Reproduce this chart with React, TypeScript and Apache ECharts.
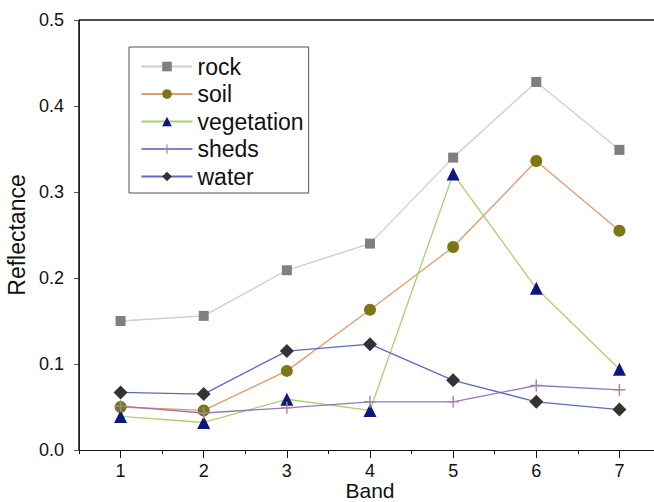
import React, { useEffect, useRef } from "react";
import * as echarts from "echarts";

const bands = [1, 2, 3, 4, 5, 6, 7];
const rock = [0.150, 0.156, 0.209, 0.240, 0.340, 0.428, 0.349];
const soil = [0.050, 0.046, 0.092, 0.163, 0.236, 0.336, 0.255];
const vegetation = [0.039, 0.032, 0.059, 0.046, 0.321, 0.188, 0.094];
const sheds = [0.051, 0.043, 0.049, 0.056, 0.056, 0.075, 0.070];
const water = [0.067, 0.065, 0.115, 0.123, 0.081, 0.056, 0.047];
const xRange = [0.5, 7.5];
const yRange = [0, 0.5];

const plusPath =
  "path://M4.4,0 H5.6 V4.4 H10 V5.6 H5.6 V10 H4.4 V5.6 H0 V4.4 H4.4 Z";

const FONT = "Arial, 'Liberation Sans', Helvetica, sans-serif";
const AX = "#111111";

export default function App() {
  const ref = useRef<HTMLDivElement>(null);
  useEffect(() => {
    document.body.style.margin = "0";
    const chart = echarts.init(ref.current!, null, { renderer: "svg" });
    const pts = (arr: number[]) => bands.map((b, i) => [b, arr[i]]);
    const mk = (
      name: string,
      arr: number[],
      symbol: string,
      size: number,
      fill: string,
      line: string
    ) => ({
      name,
      type: "line",
      data: pts(arr),
      symbol,
      symbolSize: size,
      itemStyle: { color: fill },
      lineStyle: { color: line, width: 1.3 },
    });
    const rockSeries: any = mk("rock", rock, "rect", 10, "#7f7f7f", "#cdcdcd");
    rockSeries.markLine = {
      silent: true,
      symbol: ["none", "none"],
      label: { show: false },
      emphasis: { disabled: true },
      lineStyle: { color: AX, width: 1.5, type: "solid" },
      data: [{ xAxis: xRange[0] }, { yAxis: yRange[1] }, { xAxis: xRange[1] }],
    };
    chart.setOption({
      animation: false,
      grid: {
        left: 79,
        top: 20,
        width: 582,
        height: 430,
        containLabel: false,
        outerBoundsMode: "none",
      },
      legend: {
        orient: "vertical",
        left: 129,
        top: 47,
        itemWidth: 51,
        itemHeight: 12,
        itemGap: 4.5,
        padding: [8, 5, 5, 11.5],
        borderColor: "#555",
        borderWidth: 1,
        textStyle: { fontSize: 23, lineHeight: 23, color: "#111", fontFamily: FONT },
        data: ["rock", "soil", "vegetation", "sheds", "water"],
      },
      xAxis: {
        type: "value",
        min: xRange[0],
        max: xRange[1],
        interval: 1,
        splitLine: { show: false },
        axisLine: { show: true, lineStyle: { color: AX } },
        axisTick: { show: true, length: 4, lineStyle: { color: AX } },
        minorTick: { show: true, splitNumber: 2, length: 8, lineStyle: { color: AX } },
        name: "Band",
        nameLocation: "middle",
        nameGap: 30,
        nameMoveOverlap: false,
        nameTextStyle: { fontSize: 21, color: "#111", fontFamily: FONT },
        axisLabel: {
          show: true,
          customValues: bands,
          fontSize: 18,
          color: "#111",
          margin: 12,
          fontFamily: FONT,
        },
      },
      yAxis: {
        type: "value",
        min: yRange[0],
        max: yRange[1],
        interval: 0.1,
        name: "Reflectance",
        nameLocation: "middle",
        nameGap: 46,
        nameTextStyle: { fontSize: 23, color: "#111", fontFamily: FONT },
        splitLine: { show: false },
        axisLine: { show: true },
        axisTick: { show: true },
        axisLabel: {
          fontSize: 18,
          color: "#111",
          margin: 15,
          fontFamily: FONT,
          formatter: (v: number) => v.toFixed(1),
        },
      },
      series: [
        rockSeries,
        mk("soil", soil, "circle", 12, "#7a7714", "#e99a68"),
        mk("vegetation", vegetation, "triangle", 13, "#0c1880", "#a8d26e"),
        mk("sheds", sheds, plusPath, 12, "#a08a9c", "#9478bc"),
        mk("water", water, "diamond", 14, "#333333", "#5b6bbf"),
      ],
    });
    return () => chart.dispose();
  }, []);
  return <div ref={ref} style={{ width: 654, height: 502 }} />;
}
